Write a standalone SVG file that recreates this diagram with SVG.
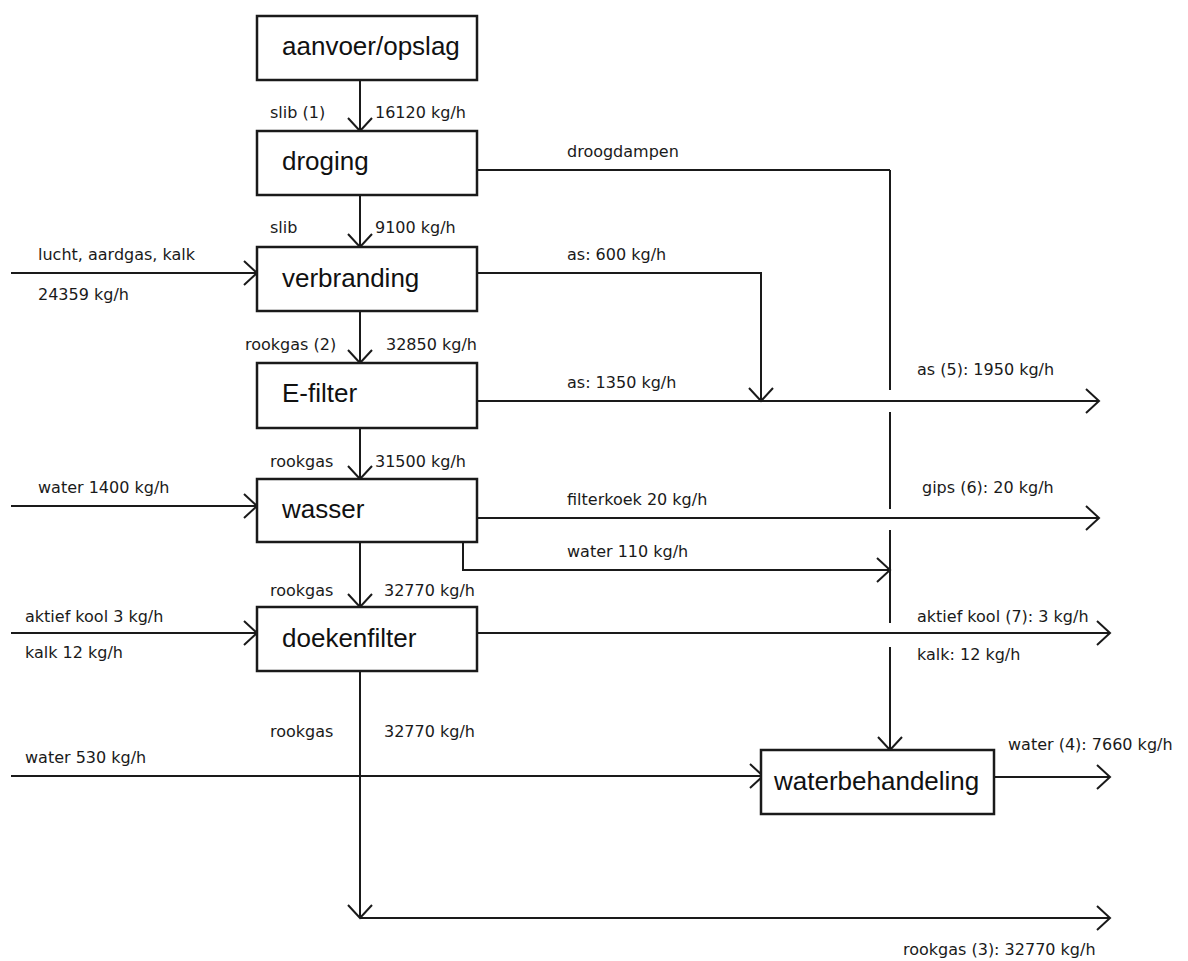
<svg xmlns="http://www.w3.org/2000/svg" width="1188" height="961" viewBox="0 0 1188 961">
<style>
.box{fill:#fff;stroke:#1a1a1a;stroke-width:2.5}
.bt{font-family:"Liberation Sans",Arial,sans-serif;font-size:26px;fill:#111}
.lb{font-family:"DejaVu Sans",sans-serif;font-size:16px;fill:#1a1a1a}
.ln{fill:none;stroke:#1a1a1a;stroke-width:2}
.ar{marker-end:url(#arr)}
</style>
<defs>
<marker id="arr" markerUnits="userSpaceOnUse" markerWidth="20" markerHeight="30" refX="15" refY="14" orient="auto">
<path d="M2,2 L15,14 L2,26" fill="none" stroke="#1a1a1a" stroke-width="2"/>
</marker>
</defs>
<rect width="1188" height="961" fill="#fff"/>
<g id="connectors">
<line class="ln ar" x1="360" y1="80" x2="360" y2="131"/>
<line class="ln ar" x1="360" y1="195" x2="360" y2="247"/>
<line class="ln ar" x1="360" y1="311" x2="360" y2="363"/>
<line class="ln ar" x1="360" y1="428" x2="360" y2="479"/>
<line class="ln ar" x1="360" y1="542" x2="360" y2="607"/>
<polyline class="ln ar" points="360,671 360,918"/>
<line class="ln ar" x1="360" y1="918" x2="1110" y2="918"/>
<line class="ln ar" x1="11" y1="273" x2="257" y2="273"/>
<line class="ln ar" x1="11" y1="506" x2="257" y2="506"/>
<line class="ln ar" x1="11" y1="633" x2="257" y2="633"/>
<line class="ln ar" x1="11" y1="776" x2="763" y2="776"/>
<line class="ln" x1="477" y1="170" x2="890" y2="170"/>
<line class="ln" x1="890" y1="170" x2="890" y2="390"/>
<line class="ln" x1="890" y1="412" x2="890" y2="509"/>
<line class="ln" x1="890" y1="530" x2="890" y2="623"/>
<line class="ln ar" x1="890" y1="647" x2="890" y2="750"/>
<polyline class="ln ar" points="477,273 761,273 761,401"/>
<line class="ln ar" x1="477" y1="401" x2="1099" y2="401"/>
<line class="ln ar" x1="477" y1="518" x2="1099" y2="518"/>
<polyline class="ln ar" points="463,542 463,570 890,570"/>
<line class="ln ar" x1="477" y1="633" x2="1110" y2="633"/>
<line class="ln ar" x1="995" y1="777" x2="1110" y2="777"/>
</g>
<g id="aanvoer"><rect class="box" x="257" y="16" width="220" height="64"/><text class="bt" x="282" y="55">aanvoer/opslag</text></g>
<g id="droging"><rect class="box" x="257" y="131" width="220" height="64"/><text class="bt" x="282" y="170">droging</text></g>
<g id="verbranding"><rect class="box" x="257" y="247" width="220" height="64"/><text class="bt" x="282" y="287">verbranding</text></g>
<g id="efilter"><rect class="box" x="257" y="363" width="220" height="65"/><text class="bt" x="282" y="402">E-filter</text></g>
<g id="wasser"><rect class="box" x="257" y="479" width="220" height="63"/><text class="bt" x="282" y="518">wasser</text></g>
<g id="doekenfilter"><rect class="box" x="257" y="607" width="220" height="64"/><text class="bt" x="282" y="647">doekenfilter</text></g>
<g id="waterbehandeling"><rect class="box" x="761" y="750" width="233" height="64"/><text class="bt" x="774" y="790">waterbehandeling</text></g>
<g id="labels">
<text class="lb" x="270" y="118">slib (1)</text>
<text class="lb" x="375" y="118">16120 kg/h</text>
<text class="lb" x="270" y="233">slib</text>
<text class="lb" x="375" y="233">9100 kg/h</text>
<text class="lb" x="38" y="260">lucht, aardgas, kalk</text>
<text class="lb" x="38" y="300">24359 kg/h</text>
<text class="lb" x="245" y="350">rookgas (2)</text>
<text class="lb" x="386" y="350">32850 kg/h</text>
<text class="lb" x="270" y="467">rookgas</text>
<text class="lb" x="375" y="467">31500 kg/h</text>
<text class="lb" x="38" y="493">water 1400 kg/h</text>
<text class="lb" x="270" y="596">rookgas</text>
<text class="lb" x="384" y="596">32770 kg/h</text>
<text class="lb" x="25" y="622">aktief kool 3 kg/h</text>
<text class="lb" x="25" y="658">kalk 12 kg/h</text>
<text class="lb" x="270" y="737">rookgas</text>
<text class="lb" x="384" y="737">32770 kg/h</text>
<text class="lb" x="25" y="763">water 530 kg/h</text>
<text class="lb" x="567" y="157">droogdampen</text>
<text class="lb" x="567" y="260">as: 600 kg/h</text>
<text class="lb" x="567" y="388">as: 1350 kg/h</text>
<text class="lb" x="917" y="375">as (5): 1950 kg/h</text>
<text class="lb" x="567" y="505">filterkoek 20 kg/h</text>
<text class="lb" x="922" y="493">gips (6): 20 kg/h</text>
<text class="lb" x="567" y="557">water 110 kg/h</text>
<text class="lb" x="917" y="622">aktief kool (7): 3 kg/h</text>
<text class="lb" x="917" y="660">kalk: 12 kg/h</text>
<text class="lb" x="1008" y="750">water (4): 7660 kg/h</text>
<text class="lb" x="903" y="955">rookgas (3): 32770 kg/h</text>
</g>
</svg>
